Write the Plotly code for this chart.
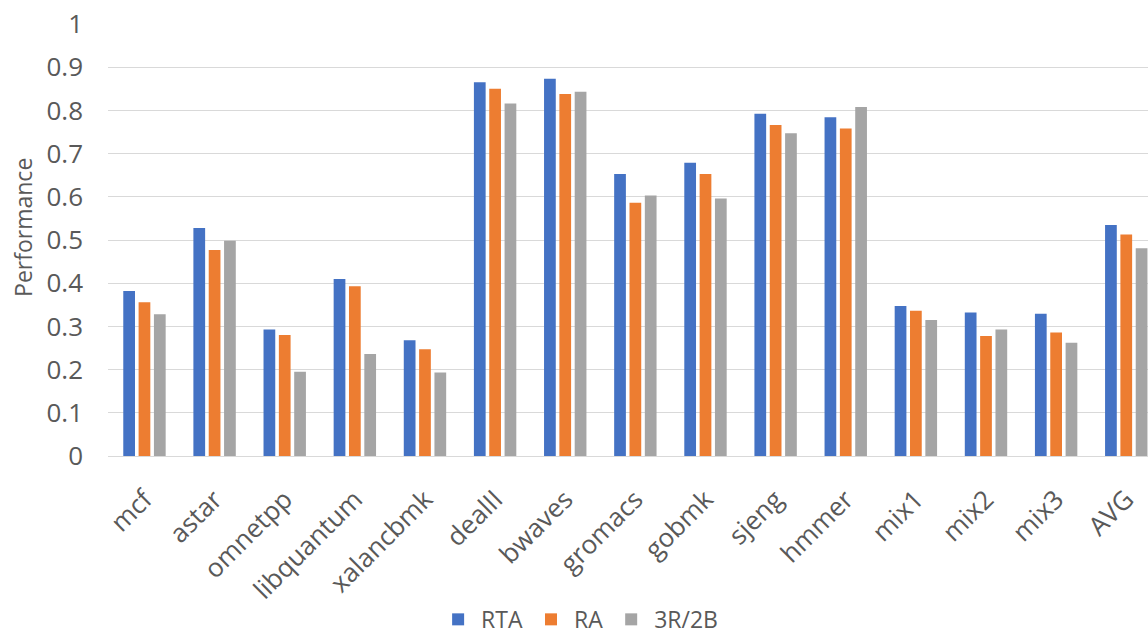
import plotly.graph_objects as go

# Benchmarks and per-scheme performance
categories = ["mcf", "astar", "omnetpp", "libquantum", "xalancbmk", "dealII", "bwaves",
              "gromacs", "gobmk", "sjeng", "hmmer", "mix1", "mix2", "mix3", "AVG"]
rta = [0.382, 0.528, 0.293, 0.410, 0.268, 0.865, 0.873, 0.653, 0.679, 0.792,
       0.784, 0.347, 0.332, 0.329, 0.535]
ra = [0.356, 0.477, 0.280, 0.393, 0.247, 0.850, 0.838, 0.586, 0.653, 0.766,
      0.758, 0.336, 0.278, 0.286, 0.513]
r3b2 = [0.328, 0.498, 0.195, 0.236, 0.193, 0.816, 0.843, 0.603, 0.596, 0.747,
        0.808, 0.315, 0.293, 0.262, 0.481]
y_ticks = [0, 0.1, 0.2, 0.3, 0.4, 0.5, 0.6, 0.7, 0.8, 0.9, 1]
y_tick_text = ["0", "0.1", "0.2", "0.3", "0.4", "0.5", "0.6", "0.7", "0.8", "0.9", "1"]

TEXT = "#595959"
FONT = "Open Sans"

fig = go.Figure()
for name, vals, color in [("RTA", rta, "#4472C4"), ("RA", ra, "#ED7D31"), ("3R/2B", r3b2, "#A5A5A5")]:
    fig.add_trace(go.Bar(x=list(range(len(categories))), y=vals, name=name,
                         marker=dict(color=color, line=dict(width=0))))

fig.update_layout(
    width=1148, height=642,
    margin=dict(l=108, r=0, t=24, b=186, autoexpand=False),
    paper_bgcolor="white", plot_bgcolor="white",
    barmode="group", bargap=0.344, bargroupgap=0.235,
    font=dict(family=FONT, color=TEXT),
    showlegend=True,
    legend=dict(orientation="h", x=0.453, xanchor="center", y=-0.428, yanchor="bottom",
                font=dict(size=23, color=TEXT, family=FONT), traceorder="normal",
                itemwidth=36, bgcolor="rgba(0,0,0,0)"),
    xaxis=dict(
        range=[-0.52, 14.31], automargin=False,
        tickmode="array", tickvals=list(range(len(categories))), ticktext=categories,
        tickangle=-45, tickfont=dict(size=26, color=TEXT, family=FONT),
        showgrid=False, zeroline=False, showline=False, ticks="",
        ticklabelstandoff=22,
    ),
    yaxis=dict(
        range=[0, 1], automargin=False,
        tickmode="array", tickvals=y_ticks, ticktext=y_tick_text,
        tickfont=dict(size=26, color=TEXT, family=FONT),
        showgrid=True, gridcolor="#D9D9D9", gridwidth=1,
        zeroline=True, zerolinecolor="#D9D9D9", zerolinewidth=1,
        showline=False, ticks="",
        ticklabelstandoff=24,
    ),
    annotations=[dict(
        text="Performance", textangle=-90, showarrow=False,
        xref="paper", yref="paper", x=-0.0817, y=0.528,
        xanchor="center", yanchor="middle",
        font=dict(size=23, color=TEXT, family=FONT),
    )],
)

fig.write_html("out.html")
